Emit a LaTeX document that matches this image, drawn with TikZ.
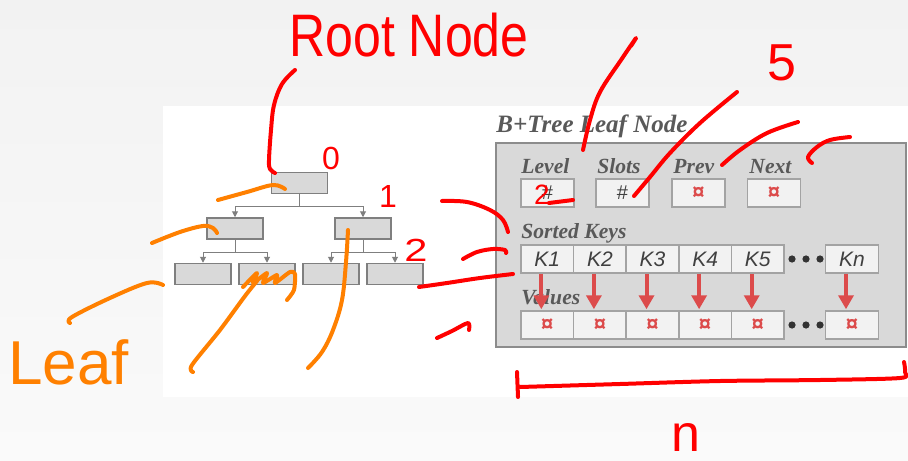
\documentclass[tikz,border=0pt]{standalone}
\usepackage{fontspec}
\setmainfont{Liberation Serif}
\setsansfont{Liberation Sans}
\usetikzlibrary{arrows.meta}

\definecolor{bgtop}{HTML}{F2F2F2}
\definecolor{bgbot}{HTML}{FAFAFA}
\definecolor{boxfill}{HTML}{D9D9D9}
\definecolor{boxline}{HTML}{7F7F7F}
\definecolor{panelline}{HTML}{8C8C8C}
\definecolor{cellfill}{HTML}{F2F2F2}
\definecolor{cellline}{HTML}{A3A3A3}
\definecolor{labelgray}{HTML}{595959}
\definecolor{keytext}{HTML}{404040}
\definecolor{ptrred}{HTML}{DC4B4B}
\definecolor{inkred}{HTML}{FF0000}
\definecolor{inkorange}{HTML}{FF8000}

\tikzset{
  treebox/.style={draw=boxline, fill=boxfill, line width=0.75pt,
    minimum width=28pt, minimum height=10.5pt, inner sep=0pt},
  treeline/.style={draw=boxline, line width=0.5pt},
  treearrow/.style={treeline, -{Triangle[width=3pt,length=3pt]}},
  leafpanel/.style={draw=panelline, fill=boxfill, line width=0.8pt,
    minimum width=205pt, minimum height=102pt, inner sep=0pt},
  cell/.style={draw=cellline, fill=cellfill, line width=0.75pt,
    minimum width=26.3pt, minimum height=14pt, inner sep=0pt},
  fieldlabel/.style={anchor=base west, inner sep=0pt, text=labelgray,
    font=\fontsize{10.8}{12}\selectfont\bfseries\itshape},
  keylabel/.style={text=keytext, font=\sffamily\itshape\fontsize{10.5}{12}\selectfont},
  ptrmark/.style={text=ptrred, font=\sffamily\bfseries\fontsize{11}{12}\selectfont},
  ptrarrow/.style={draw=ptrred, line width=2pt, -{Triangle[width=7.5pt,length=7pt]}},
  dot/.style={circle, fill=black!80, minimum size=3.6pt, inner sep=0pt},
  ink/.style={line width=2pt, line cap=round, line join=round},
  redink/.style={ink, draw=inkred},
  orangeink/.style={ink, draw=inkorange},
  inktext/.style={inner sep=0pt, font=\sffamily\fontsize{#1}{#1}\selectfont},
}

\begin{document}
\begin{tikzpicture}[x=0.5pt, y=-0.5pt]
\useasboundingbox (0,0) rectangle (908,460);
\shade[top color=bgtop, bottom color=bgbot] (0,0) rectangle (908,460);
\fill[white] (163,106) rectangle (908,397);

% ---- small B+Tree ----
\node[treebox] (root) at (299.5,183) {};
\node[treebox] (la) at (235,228.5) {};
\node[treebox] (lb) at (363,228.5) {};
\node[treebox] (l1) at (203,274) {};
\node[treebox] (l2) at (267,274) {};
\node[treebox] (l3) at (331,274) {};
\node[treebox] (l4) at (395,274) {};

\coordinate (j0) at (299.5,206);
\coordinate (ja) at (235,252);
\coordinate (jb) at (363,252);
\draw[treeline] (root.south) -- (j0);
\draw[treearrow] (j0) -| (la.north);
\draw[treearrow] (j0) -| (lb.north);
\draw[treeline] (la.south) -- (ja);
\draw[treearrow] (ja) -| (l1.north);
\draw[treearrow] (ja) -| (l2.north);
\draw[treeline] (lb.south) -- (jb);
\draw[treearrow] (jb) -| (l3.north);
\draw[treearrow] (jb) -| (l4.north);

% ---- leaf node layout ----
\node[anchor=base west, inner sep=0pt, text=labelgray,
  font=\fontsize{12.5}{14}\selectfont\bfseries\itshape] (title) at (496,132) {B+Tree Leaf Node};
\node[leafpanel] (panel) at (701,245) {};

\node[fieldlabel] (levell) at (521,173) {Level};
\node[fieldlabel] (slotsl) at (597,173) {Slots};
\node[fieldlabel] (prevl) at (673,173) {Prev};
\node[fieldlabel] (nextl) at (749,173) {Next};

\node[cell] (level) at (547.5,193) {\sffamily\fontsize{10}{12}\selectfont\color{keytext}\#};
\node[cell] (slots) at (622.5,193) {\sffamily\fontsize{10}{12}\selectfont\color{keytext}\#};
\node[cell] (prev) at (698.5,193) {};
\node[ptrmark] at (prev) {¤};
\node[cell] (next) at (774,193) {};
\node[ptrmark] at (next) {¤};

\node[fieldlabel] (keysl) at (521,238) {Sorted Keys};
\node[fieldlabel] (valsl) at (521,304) {Values};

\foreach \i/\x/\t in {1/547.3/K1, 2/599.9/K2, 3/652.5/K3, 4/705.1/K4, 5/757.7/K5, n/852/Kn} {
  \node[cell] (k\i) at (\x,259) {};
  \node[keylabel] at (k\i) {\t};
  \node[cell] (v\i) at (\x,325) {};
  \node[ptrmark] at (v\i) {¤};
  \draw[ptrarrow] ([xshift=-3pt]k\i.south) -- ([xshift=-3pt,yshift=0.5pt]v\i.north);
}
\foreach \r in {259,325} {
  \node[dot] at (792,\r) {};
  \node[dot] at (806,\r) {};
  \node[dot] at (820,\r) {};
}

% ---- red ink notes ----
\node[inktext=25, text=inkred, yscale=1.2] (rootnote) at (409,35) {Root Node};
\draw[redink] plot[smooth, tension=0.6] coordinates {(295,70) (282,84) (274,105) (271,130) (269,160) (270,169) (275,173)};
\node[inktext=16, text=inkred] (n0) at (331,158) {0};
\node[inktext=16, text=inkred] (n1) at (388,196) {1};
\node[inktext=16, text=inkred, xscale=1.3] (n2) at (416,250) {2};
\node[inktext=26, text=inkred] (n5) at (782,63) {5};
\node[inktext=26, text=inkred] (nn) at (686,438) {n};
\node[inktext=14, text=inkred] (lev2) at (542,195) {2};
\draw[redink] (549,203) -- (573,200);

\draw[redink] plot[smooth, tension=0.6] coordinates {(631,46) (636,38) (621,60) (600,92) (590,120) (583,150)};
\draw[redink] plot[smooth, tension=0.6] coordinates {(737,92) (700,123) (670,153) (650,177) (634,196)};
\draw[redink] plot[smooth, tension=0.6] coordinates {(722,165) (740,150) (767,133) (798,122)};
\draw[redink] plot[smooth, tension=0.6] coordinates {(812,163) (808,157) (817,147) (830,140) (850,137)};
\draw[redink] plot[smooth, tension=0.6] coordinates {(442,201) (467,202) (490,210) (503,220) (508,232)};
\draw[redink] plot[smooth, tension=0.6] coordinates {(463,259) (477,252) (493,249) (505,250) (506,253)};
\draw[redink] plot[smooth, tension=0.6] coordinates {(419,287) (447,283) (480,278) (513,274)};
\draw[redink] plot[smooth, tension=0.5] coordinates {(437,338) (452,331) (468,323) (469,330)};
\draw[redink] (517,372) -- (518,397);
\draw[redink] plot[smooth, tension=0.5] coordinates {(520,387) (620,384) (720,381) (820,380) (900,378) (905,372) (904,362)};

% ---- orange ink notes ----
\node[inktext=31, text=inkorange, anchor=base west] (leafnote) at (8,384) {Leaf};
\draw[orangeink] plot[smooth, tension=0.6] coordinates {(218,200) (247,192) (273,185) (285,189)};
\draw[orangeink] plot[smooth, tension=0.6] coordinates {(152,243) (180,232) (203,226) (213,228) (217,233)};
\draw[orangeink] plot[smooth, tension=0.6] coordinates {(70,323) (72,317) (110,298) (147,283) (163,285)};
\draw[orangeink] plot[smooth, tension=0.5] coordinates {(193,372) (192,365) (220,330) (245,296) (257,281)};
\draw[orangeink] plot[smooth, tension=0.4] coordinates {(243,287) (257,273) (253,283) (267,273) (263,283) (277,275) (275,283) (290,272) (295,274) (294,290) (287,300)};
\draw[orangeink] plot[smooth, tension=0.6] coordinates {(348,230) (346,262) (342,300) (333,330) (322,352) (308,368)};
\end{tikzpicture}
\end{document}
